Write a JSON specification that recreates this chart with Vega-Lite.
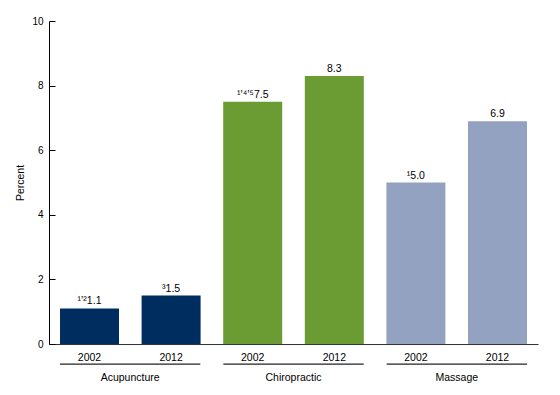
{
  "$schema": "https://vega.github.io/schema/vega-lite/v6.json",
  "width": 489,
  "height": 323,
  "autosize": {"type": "none"},
  "padding": {"left": 49, "top": 21, "right": 22, "bottom": 51},
  "background": "white",
  "config": {
    "font": "Liberation Sans",
    "view": {"stroke": null},
    "axis": {
      "labelFont": "Liberation Sans",
      "titleFont": "Liberation Sans",
      "labelColor": "#000000",
      "titleColor": "#000000",
      "grid": false
    },
    "text": {"font": "Liberation Sans", "fontSize": 10.5, "color": "#000000"}
  },
  "datasets": {
    "bars": [
      {"therapy": "Acupuncture", "year": "2002", "percent": 1.1, "note": "¹ʼ²"},
      {"therapy": "Acupuncture", "year": "2012", "percent": 1.5, "note": "³"},
      {"therapy": "Chiropractic", "year": "2002", "percent": 7.5, "note": "¹ʼ⁴ʼ⁵"},
      {"therapy": "Chiropractic", "year": "2012", "percent": 8.3, "note": ""},
      {"therapy": "Massage", "year": "2002", "percent": 5.0, "note": "¹"},
      {"therapy": "Massage", "year": "2012", "percent": 6.9, "note": ""}
    ],
    "groups": [
      {"therapy": "Acupuncture"},
      {"therapy": "Chiropractic"},
      {"therapy": "Massage"}
    ]
  },
  "resolve": {"scale": {"x": "independent"}, "axis": {"x": "independent"}},
  "layer": [
    {
      "data": {"name": "bars"},
      "transform": [
        {"calculate": "datum.therapy + ' ' + datum.year", "as": "key"},
        {"calculate": "datum.note + format(datum.percent, '.1f')", "as": "label"}
      ],
      "encoding": {
        "x": {
          "field": "key",
          "type": "nominal",
          "sort": null,
          "scale": {"paddingInner": 0.277, "paddingOuter": 0.135},
          "axis": {
            "orient": "bottom",
            "title": null,
            "labelExpr": "slice(datum.label, -4)",
            "labelAngle": 0,
            "labelFontSize": 10.5,
            "labelPadding": 8,
            "ticks": false,
            "domainColor": "#333333",
            "domainWidth": 1
          }
        },
        "y": {
          "field": "percent",
          "type": "quantitative",
          "scale": {"domain": [0, 10]},
          "axis": {
            "title": "Percent",
            "values": [0, 2, 4, 6, 8, 10],
            "labelFontSize": 10,
            "titleFontSize": 10.5,
            "titleFontWeight": "normal",
            "titlePadding": 6,
            "tickSize": -6,
            "tickColor": "#000000",
            "domainColor": "#000000",
            "labelPadding": 12
          }
        }
      },
      "layer": [
        {
          "mark": {"type": "bar"},
          "encoding": {
            "color": {
              "field": "therapy",
              "type": "nominal",
              "scale": {
                "domain": ["Acupuncture", "Chiropractic", "Massage"],
                "range": ["#002D5F", "#6B9B33", "#94A2C2"]
              },
              "legend": null
            }
          }
        },
        {
          "mark": {"type": "text", "dy": -4, "baseline": "alphabetic", "fontSize": 10.5},
          "encoding": {"text": {"field": "label", "type": "nominal"}}
        }
      ]
    },
    {
      "data": {"name": "groups"},
      "mark": {"type": "rect", "color": "#222222"},
      "encoding": {
        "x": {
          "field": "therapy",
          "type": "nominal",
          "sort": null,
          "scale": {"paddingInner": 0.1407, "paddingOuter": 0.0673},
          "axis": {
            "orient": "bottom",
            "title": null,
            "labelAngle": 0,
            "labelFontSize": 10.5,
            "labelPadding": 28,
            "ticks": false,
            "domain": false
          }
        },
        "y": {"datum": -0.6, "type": "quantitative"},
        "y2": {"datum": -0.64}
      }
    }
  ]
}
